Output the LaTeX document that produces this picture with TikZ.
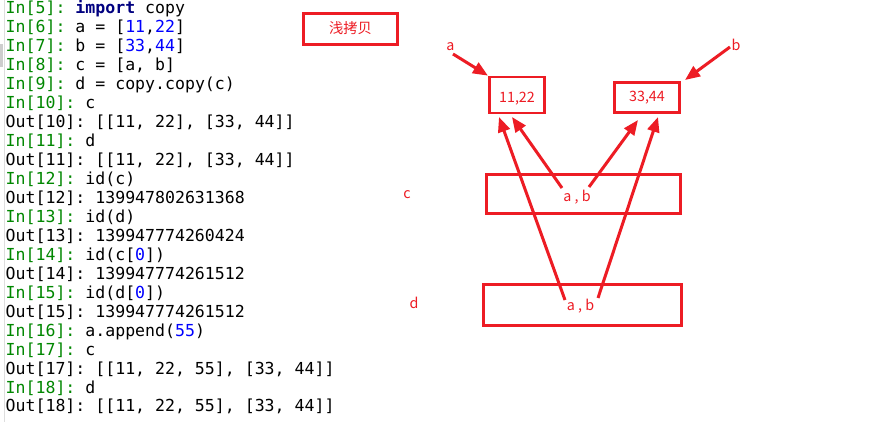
\documentclass[tikz,border=0pt]{standalone}
\usepackage{fontspec}
\setmonofont{DejaVu Sans Mono}
\newfontfamily\cjk{Noto Sans CJK SC}
\usetikzlibrary{arrows.meta}
\definecolor{ingreen}{RGB}{0,135,0}
\definecolor{numblue}{RGB}{0,0,255}
\definecolor{kwnavy}{RGB}{0,0,128}
\definecolor{pred}{RGB}{237,28,36}
\definecolor{edgegray}{RGB}{222,222,222}
\definecolor{blockgray}{RGB}{205,205,205}
\newcommand{\pin}[1]{\textcolor{ingreen}{#1}}
\newcommand{\pnum}[1]{\textcolor{numblue}{#1}}
\begin{document}
\begin{tikzpicture}[x=1pt,y=-1pt,
  code/.style={anchor=base west,inner sep=0pt,font=\ttfamily\fontsize{16.55}{19}\selectfont,text=black},
  lbl/.style={inner sep=0pt,anchor=base,font=\cjk\fontsize{14.3}{16}\selectfont,text=pred},
  redbox/.style={draw=pred,line width=2.7pt,inner sep=0pt,font=\cjk\fontsize{14.3}{16}\selectfont,text=pred},
  redarrow/.style={draw=pred,line width=3pt,-{Triangle[length=15pt,width=12pt]}}]
\useasboundingbox (0,0) rectangle (894,422);
\fill[white] (0,0) rectangle (894,422);
% editor margin
\coordinate (mtop) at (4.7,0);
\coordinate (mbot) at (4.7,422);
\draw[edgegray,line width=0.8pt] (mtop) -- (mbot);
\fill[blockgray] (0,44) rectangle (2.5,67);
% code lines
\node[code] (l0)  at (5.5,14.0)  {\pin{In[5]:} \textbf{\textcolor{kwnavy}{import}} copy};
\node[code] (l1)  at (5.5,32.95) {\pin{In[6]:} a = [\pnum{11},\pnum{22}]};
\node[code] (l2)  at (5.5,51.9)  {\pin{In[7]:} b = [\pnum{33},\pnum{44}]};
\node[code] (l3)  at (5.5,70.85) {\pin{In[8]:} c = [a, b]};
\node[code] (l4)  at (5.5,89.8)  {\pin{In[9]:} d = copy.copy(c)};
\node[code] (l5)  at (5.5,108.75){\pin{In[10]:} c};
\node[code] (l6)  at (5.5,127.7) {Out[10]: [[11, 22], [33, 44]]};
\node[code] (l7)  at (5.5,146.65){\pin{In[11]:} d};
\node[code] (l8)  at (5.5,165.6) {Out[11]: [[11, 22], [33, 44]]};
\node[code] (l9)  at (5.5,184.55){\pin{In[12]:} id(c)};
\node[code] (l10) at (5.5,203.5) {Out[12]: 139947802631368};
\node[code] (l11) at (5.5,222.45){\pin{In[13]:} id(d)};
\node[code] (l12) at (5.5,241.4) {Out[13]: 139947774260424};
\node[code] (l13) at (5.5,260.35){\pin{In[14]:} id(c[\pnum{0}])};
\node[code] (l14) at (5.5,279.3) {Out[14]: 139947774261512};
\node[code] (l15) at (5.5,298.25){\pin{In[15]:} id(d[\pnum{0}])};
\node[code] (l16) at (5.5,317.2) {Out[15]: 139947774261512};
\node[code] (l17) at (5.5,336.15){\pin{In[16]:} a.append(\pnum{55})};
\node[code] (l18) at (5.5,355.1) {\pin{In[17]:} c};
\node[code] (l19) at (5.5,374.05){Out[17]: [[11, 22, 55], [33, 44]]};
\node[code] (l20) at (5.5,393.0) {\pin{In[18]:} d};
\node[code] (l21) at (5.5,411.95){Out[18]: [[11, 22, 55], [33, 44]]};
% diagram boxes
\node[redbox,minimum width=94.3pt,minimum height=31.3pt,text height=10pt,text depth=0pt] (title) at (350.5,29) {浅拷贝};
\node[redbox,minimum width=55.4pt,minimum height=31.4pt,text height=26pt,text depth=10pt] (b1) at (517,95) {11,22};
\node[redbox,minimum width=65.3pt,minimum height=30.3pt,text height=17pt,text depth=8pt] (b2) at (647,97.5) {33,44};
\node[redbox,minimum width=194.3pt,minimum height=39.3pt] (boxc) at (583.5,194) {};
\node[redbox,minimum width=198.3pt,minimum height=41.3pt] (boxd) at (582.5,305) {};
% labels
\node[lbl] (la) at (450.5,51) {a};
\node[lbl] (lb) at (736,51) {b};
\node[lbl] (lc) at (407,199) {c};
\node[lbl] (ld) at (414,308) {d};
\node[lbl] (cab) at (577,202) {a , b};
\node[lbl] (dab) at (580.5,310) {a , b};
% arrow end points
\coordinate (sa) at (453,54);
\coordinate (sb) at (730,47);
\coordinate (sca) at (562,188);
\coordinate (scb) at (589,187);
\coordinate (sda) at (565,300);
\coordinate (sdb) at (598,298);
\coordinate (tca) at (512,117);
\coordinate (tcb) at (638,120);
\coordinate (tda) at (499,117);
\coordinate (tdb) at (658,117);
% arrows
\draw[redarrow] (sa) -- (b1.north west);
\draw[redarrow] (sb) -- ([shift={(4,-1)}]b2.north east);
\draw[redarrow] (sca) -- (tca);
\draw[redarrow] (scb) -- (tcb);
\draw[redarrow] (sda) -- (tda);
\draw[redarrow] (sdb) -- (tdb);
\end{tikzpicture}
\end{document}
